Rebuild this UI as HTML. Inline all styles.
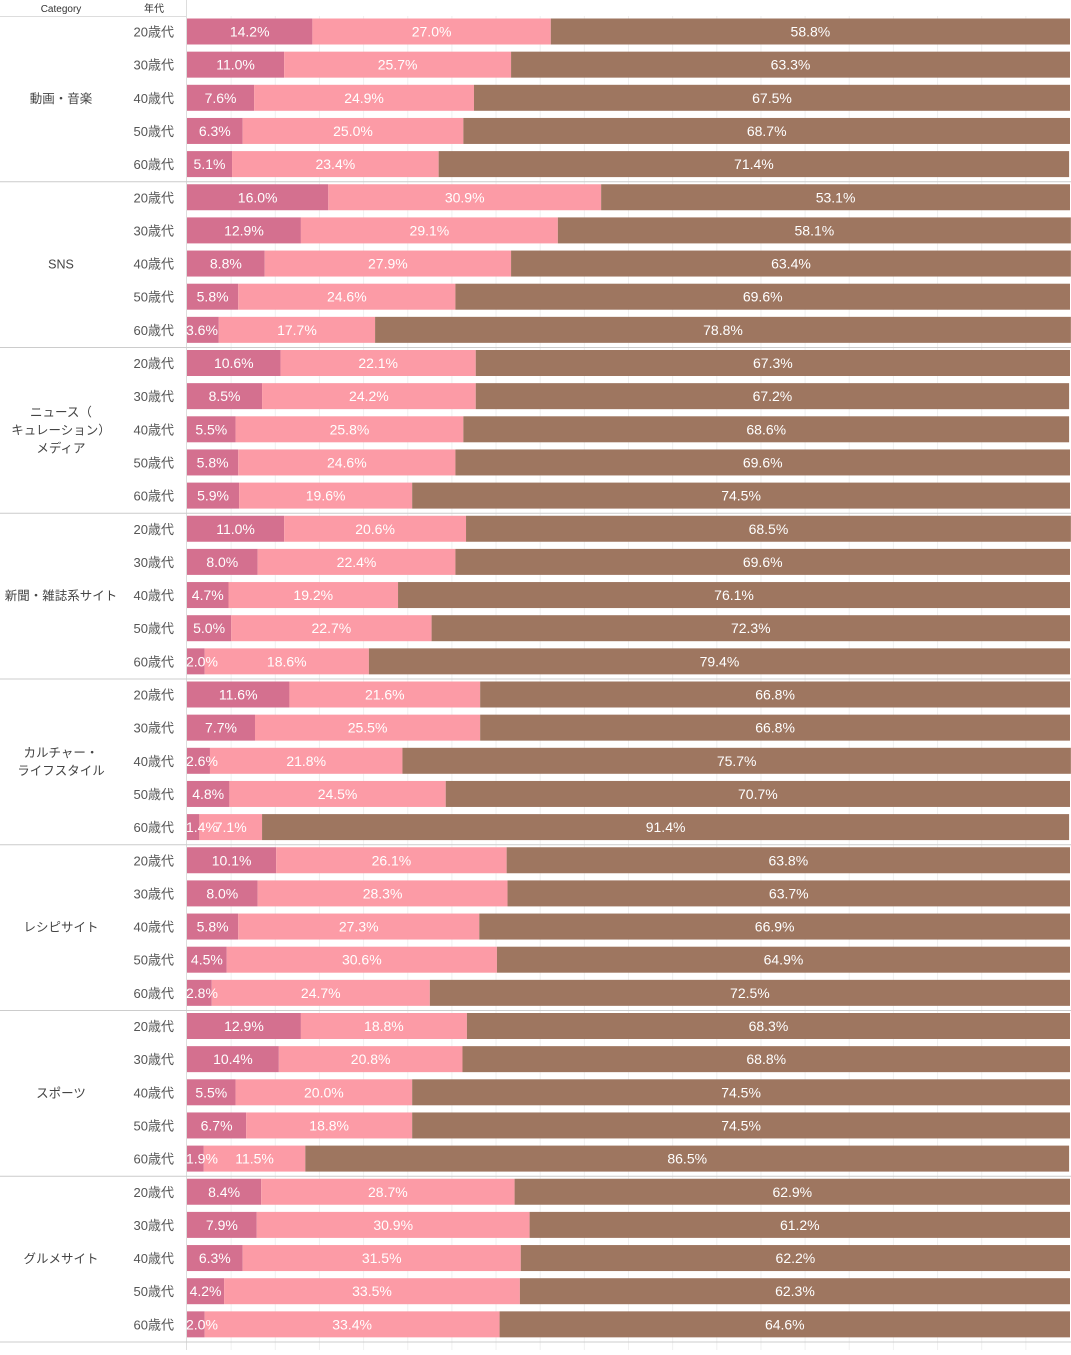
<!DOCTYPE html>
<html><head><meta charset="utf-8"><style>
body{margin:0;background:#fff;width:1071px;height:1350px;overflow:hidden;font-family:"Liberation Sans","Noto Sans CJK JP",sans-serif}
svg text{font-family:"Liberation Sans","Noto Sans CJK JP",sans-serif}
</style></head><body>
<svg id="c" width="1071" height="1350"></svg>
<script>
const categories=["動画・音楽","SNS","ニュース（\nキュレーション）\nメディア","新聞・雑誌系サイト","カルチャー・\nライフスタイル","レシピサイト","スポーツ","グルメサイト"];
const ages=["20歳代","30歳代","40歳代","50歳代","60歳代"];
const seriesA=[14.2,11.0,7.6,6.3,5.1, 16.0,12.9,8.8,5.8,3.6, 10.6,8.5,5.5,5.8,5.9, 11.0,8.0,4.7,5.0,2.0, 11.6,7.7,2.6,4.8,1.4, 10.1,8.0,5.8,4.5,2.8, 12.9,10.4,5.5,6.7,1.9, 8.4,7.9,6.3,4.2,2.0];
const seriesB=[27.0,25.7,24.9,25.0,23.4, 30.9,29.1,27.9,24.6,17.7, 22.1,24.2,25.8,24.6,19.6, 20.6,22.4,19.2,22.7,18.6, 21.6,25.5,21.8,24.5,7.1, 26.1,28.3,27.3,30.6,24.7, 18.8,20.8,20.0,18.8,11.5, 28.7,30.9,31.5,33.5,33.4];
const seriesC=[58.8,63.3,67.5,68.7,71.4, 53.1,58.1,63.4,69.6,78.8, 67.3,67.2,68.6,69.6,74.5, 68.5,69.6,76.1,72.3,79.4, 66.8,66.8,75.7,70.7,91.4, 63.8,63.7,66.9,64.9,72.5, 68.3,68.8,74.5,74.5,86.5, 62.9,61.2,62.2,62.3,64.6];
const colors=["#d4708f","#fc9ba6","#9e7660"];
const NS="http://www.w3.org/2000/svg";
const svg=document.getElementById('c');
const x0=187,pw=883,top0=16,rowH=33.15,barH=26;
function xs(v){return x0+v/100*pw;}
function ys(i){return top0+i*rowH;}
function el(t,a,p){const e=document.createElementNS(NS,t);for(const k in a)e.setAttribute(k,a[k]);(p||svg).appendChild(e);return e;}
for(let g=5;g<100;g+=5){const l=el('line',{x1:xs(g),x2:xs(g),y1:top0,y2:1350,stroke:'#f0f0f0','stroke-width':1});

}
let t=el('text',{x:61,y:12,'font-size':10,fill:'#333','text-anchor':'middle'});t.textContent='Category';


t=el('text',{x:154,y:12,'font-size':10,fill:'#333','text-anchor':'middle'});t.textContent='年代';


el('line',{x1:186.5,x2:186.5,y1:0,y2:1350,stroke:'#ddd'});
el('line',{x1:0,x2:186,y1:16.5,y2:16.5,stroke:'#ddd'});
const segs=[seriesA,seriesB,seriesC];
const labelLayer=[];
for(let c=0;c<categories.length;c++){
  const gy=ys(c*5+5);
  const sep=el('line',{x1:0,x2:1071,y1:gy,y2:gy,stroke:'#ccc'});
  
  
  const lines=categories[c].split('\n');
  const cy=ys(c*5+2.5);
  lines.forEach((s,k)=>{const tt=el('text',{x:61,y:cy+4+(k-(lines.length-1)/2)*18,'font-size':12.5,fill:'#444','text-anchor':'middle'});tt.textContent=s;
  
  });
  for(let a=0;a<5;a++){
    const i=c*5+a,y=ys(i)+2.5;
    const al=el('text',{x:174,y:y+barH/2+5,'font-size':13,fill:'#555','text-anchor':'end'});al.textContent=ages[a];
    
    
    let cum=0;
    for(let s=0;s<3;s++){
      const v=segs[s][i];
      const r=el('rect',{x:xs(cum),y:y,width:xs(cum+v)-xs(cum),height:barH,fill:colors[s]});
      
      
      const lx=v<4?xs(cum)-1:(xs(cum)+xs(cum+v))/2;
      labelLayer.push([lx,y+barH/2+5,v<4?'start':'middle',v.toFixed(1)+'%']);
      cum+=v;
    }
  }
}
labelLayer.forEach(d=>{
  const lt=el('text',{x:d[0],y:d[1],'font-size':14,fill:'#fff','text-anchor':d[2]});
  lt.textContent=d[3];
  
  
});
</script>
</body></html>
